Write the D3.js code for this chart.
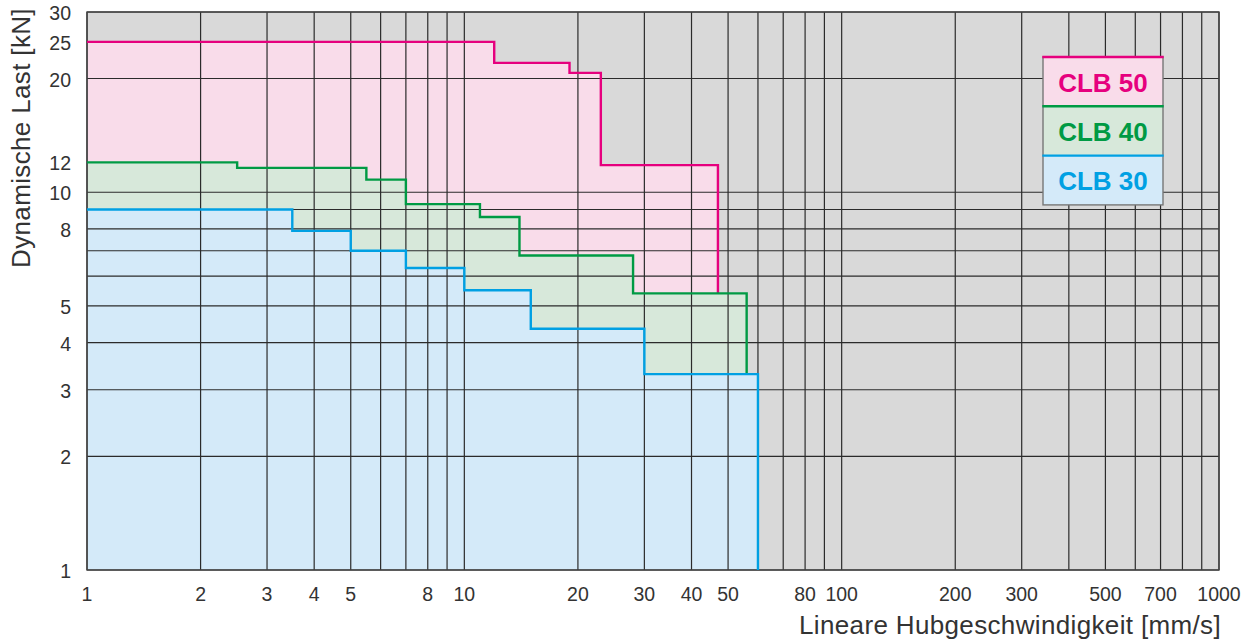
<!DOCTYPE html>
<html>
<head>
<meta charset="utf-8">
<script src="https://cdn.jsdelivr.net/npm/d3@7"></script>
<style>
  html, body { margin: 0; padding: 0; background: #fff; }
  svg { display: block; }
  text { font-family: "Liberation Sans", Arial, Helvetica, sans-serif; fill: #333; }
</style>
</head>
<body>
<svg id="chart" width="1254" height="642"></svg>
<script>
// Axis ticks and grid
const speedTicks = [1, 2, 3, 4, 5, 8, 10, 20, 30, 40, 50, 80, 100, 200, 300, 500, 700, 1000];
const loadTicks = [1, 2, 3, 4, 5, 8, 10, 12, 20, 25, 30];
const gridSpeeds = [1, 2, 3, 4, 5, 6, 7, 8, 9, 10, 20, 30, 40, 50, 60, 70, 80, 90, 100,
                    200, 300, 400, 500, 600, 700, 800, 900, 1000];
const gridLoads = [1, 2, 3, 4, 5, 6, 7, 8, 9, 10, 20, 30];

// Step curves: speed breakpoints [mm/s], load on each interval [kN], load where the curve ends
const seriesNames = ["CLB 50", "CLB 40", "CLB 30"];
const clb50Speeds = [1, 12, 19, 23, 47];
const clb50Loads = [25, 22, 20.7, 11.8];
const clb50EndLoad = 5.4;
const clb40Speeds = [1, 2.5, 5.5, 7, 11, 14, 28, 56];
const clb40Loads = [12, 11.6, 10.8, 9.3, 8.6, 6.8, 5.4];
const clb40EndLoad = 3.3;
const clb30Speeds = [1, 3.5, 5, 7, 10, 15, 30, 60];
const clb30Loads = [9, 7.9, 7, 6.3, 5.5, 4.35, 3.3];
const clb30EndLoad = 1;

const lineColors = ["#e6007e", "#009a44", "#00a0e3"];
const fillColors = ["#f9dcea", "#d7e8da", "#d4eaf9"];

const svg = d3.select("#chart");
const x = d3.scaleLog().domain([1, 1000]).range([87, 1219]);
const y = d3.scaleLog().domain([1, 30]).range([570, 12]);

function stepPoints(speeds, loads, endLoad) {
  const pts = loads.map((l, i) => [speeds[i], l]);
  const last = speeds[speeds.length - 1];
  pts.push([last, loads[loads.length - 1]]);
  pts.push([last, endLoad]);
  return pts;
}

const series = [
  stepPoints(clb50Speeds, clb50Loads, clb50EndLoad),
  stepPoints(clb40Speeds, clb40Loads, clb40EndLoad),
  stepPoints(clb30Speeds, clb30Loads, clb30EndLoad)
];

// plot background
svg.append("rect")
  .attr("x", x(1)).attr("y", y(30))
  .attr("width", x(1000) - x(1)).attr("height", y(1) - y(30))
  .attr("fill", "#d9d9d9");

// filled regions under each curve
const area = d3.area()
  .x(d => x(d[0])).y1(d => y(d[1])).y0(y(1))
  .curve(d3.curveStepAfter);
series.forEach((pts, i) => {
  svg.append("path")
    .attr("d", area(pts))
    .attr("fill", fillColors[i]);
});

// grid
const grid = svg.append("g").attr("stroke", "#2b2b2b").attr("stroke-width", 1.2);
grid.selectAll("line.v").data(gridSpeeds).join("line")
  .attr("x1", d => x(d)).attr("x2", d => x(d))
  .attr("y1", y(1)).attr("y2", y(30));
grid.selectAll("line.h").data(gridLoads).join("line")
  .attr("x1", x(1)).attr("x2", x(1000))
  .attr("y1", d => y(d)).attr("y2", d => y(d));

// frame
svg.append("rect")
  .attr("x", x(1)).attr("y", y(30))
  .attr("width", x(1000) - x(1)).attr("height", y(1) - y(30))
  .attr("fill", "none").attr("stroke", "#444").attr("stroke-width", 1.4);

// step lines
const line = d3.line().x(d => x(d[0])).y(d => y(d[1])).curve(d3.curveStepAfter);
series.forEach((pts, i) => {
  svg.append("path")
    .attr("d", line(pts))
    .attr("fill", "none")
    .attr("stroke", lineColors[i])
    .attr("stroke-width", 2.4);
});

// tick labels
svg.append("g").selectAll("text").data(loadTicks).join("text")
  .attr("x", 71).attr("y", d => y(d) + 1)
  .attr("text-anchor", "end").attr("dominant-baseline", "central")
  .attr("font-size", 19.5)
  .text(d => d);
svg.append("g").selectAll("text").data(speedTicks).join("text")
  .attr("x", d => x(d)).attr("y", 594)
  .attr("text-anchor", "middle").attr("dominant-baseline", "central")
  .attr("font-size", 19.5)
  .text(d => d);

// axis titles
svg.append("text")
  .attr("transform", "translate(30,138) rotate(-90)")
  .attr("text-anchor", "middle")
  .attr("font-size", 26)
  .attr("letter-spacing", 0.35)
  .text("Dynamische Last [kN]");
svg.append("text")
  .attr("x", 1221).attr("y", 634)
  .attr("text-anchor", "end")
  .attr("font-size", 26)
  .attr("letter-spacing", 0.35)
  .text("Lineare Hubgeschwindigkeit [mm/s]");

// legend
const legend = svg.append("g");
const lx = 1043, lw = 120, ly = 57, lh = 49.3;
seriesNames.forEach((name, i) => {
  legend.append("rect")
    .attr("x", lx).attr("y", ly + i * lh)
    .attr("width", lw).attr("height", lh)
    .attr("fill", fillColors[i]);
});
legend.append("rect")
  .attr("x", lx).attr("y", ly)
  .attr("width", lw).attr("height", lh * 3)
  .attr("fill", "none").attr("stroke", "#777").attr("stroke-width", 1.4);
seriesNames.forEach((name, i) => {
  legend.append("line")
    .attr("x1", lx - 0.7).attr("x2", lx + lw + 0.7)
    .attr("y1", ly + i * lh).attr("y2", ly + i * lh)
    .attr("stroke", lineColors[i]).attr("stroke-width", 2.4);
  legend.append("text")
    .attr("x", lx + lw / 2).attr("y", ly + i * lh + lh / 2 + 1)
    .attr("text-anchor", "middle").attr("dominant-baseline", "central")
    .attr("font-size", 26).attr("font-weight", "bold")
    .style("fill", lineColors[i])
    .text(name);
});
</script>
</body>
</html>
